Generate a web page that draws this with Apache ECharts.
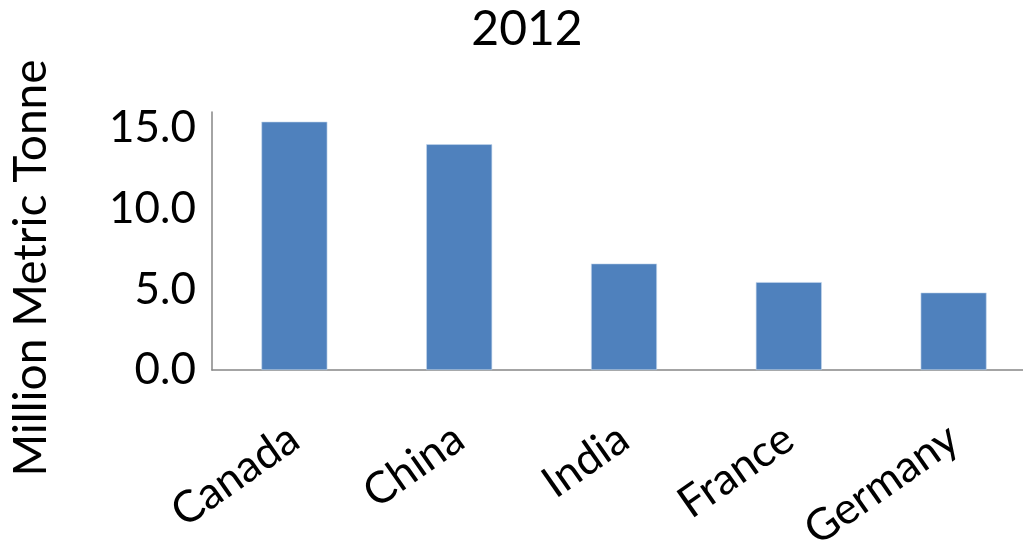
<!DOCTYPE html>
<html>
<head>
<meta charset="utf-8">
<script src="https://cdn.jsdelivr.net/npm/echarts@6/dist/echarts.min.js"></script>
<style>
  html, body { margin: 0; padding: 0; background: #fff; }
  #chart { width: 1023px; height: 547px; }
</style>
</head>
<body>
<div id="chart"></div>
<script>
// Production by country, 2012 (million metric tonnes)
const chartTitle = '2012';
const axisTitle = 'Million Metric Tonne';
const countries = ['Canada', 'China', 'India', 'France', 'Germany'];
const production = [15.4, 14.0, 6.6, 5.45, 4.8];

const FONT = 'Lato, "Noto Sans", sans-serif';
const chart = echarts.init(document.getElementById('chart'), null, { renderer: 'canvas' });

chart.setOption({
  animation: false,
  backgroundColor: '#ffffff',
  title: {
    text: chartTitle,
    left: 522,
    textAlign: 'center',
    top: 1,
    textStyle: { fontFamily: FONT, fontSize: 48, fontWeight: 'normal', color: '#000' }
  },
  graphic: [{
    type: 'text',
    x: 31,
    y: 268,
    rotation: Math.PI / 2,
    style: {
      text: axisTitle,
      fontFamily: FONT,
      fontSize: 46,
      fill: '#000',
      textAlign: 'center',
      textVerticalAlign: 'middle'
    }
  }],
  // plot area runs a little past the right edge of the canvas
  grid: { left: 212, width: 824, top: 112, bottom: 177, outerBoundsMode: 'none' },
  xAxis: {
    type: 'category',
    data: countries,
    axisLine: { lineStyle: { color: '#868686', width: 1.5 } },
    axisTick: { show: false },
    axisLabel: {
      rotate: 35,
      margin: 64,
      fontFamily: FONT,
      fontSize: 44,
      color: '#000',
      interval: 0
    }
  },
  yAxis: {
    type: 'value',
    min: 0,
    max: 16,
    interval: 5,
    axisLine: { show: true, lineStyle: { color: '#868686', width: 1.5 } },
    axisTick: { show: false },
    splitLine: { show: false },
    axisLabel: {
      margin: 16,
      showMaxLabel: false,
      fontFamily: FONT,
      fontSize: 44,
      color: '#000',
      formatter: v => v.toFixed(1)
    }
  },
  series: [{
    type: 'bar',
    data: production,
    barWidth: '40%',
    itemStyle: { color: '#4F81BD', borderColor: '#c6d6ec', borderWidth: 0.6 }
  }]
});
</script>
</body>
</html>
